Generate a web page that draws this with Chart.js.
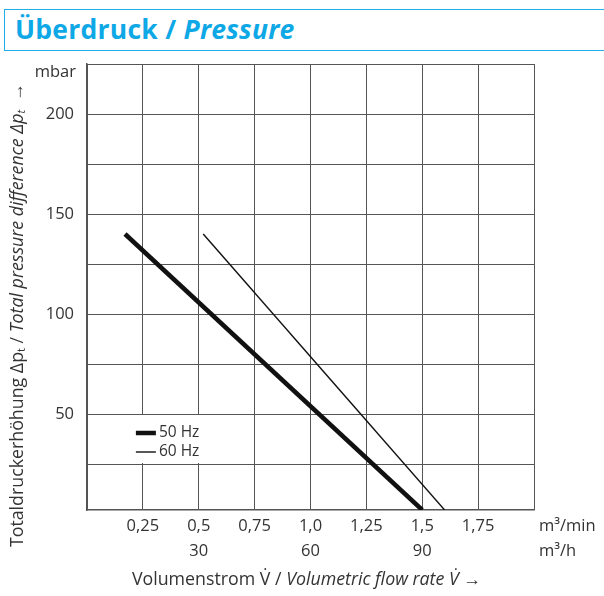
<!DOCTYPE html>
<html>
<head>
<meta charset="utf-8">
<script src="https://cdn.jsdelivr.net/npm/chart.js@4"></script>
<style>
  html, body { margin: 0; padding: 0; background: #fff; }
  body { width: 604px; height: 596px; position: relative; overflow: hidden; font-family: "Open Sans", sans-serif; }
  .header {
    position: absolute; left: 4px; top: 9px; width: 610px; height: 40px;
    border: 1.5px solid #22aee6; box-sizing: content-box;
  }
  .header span {
    position: absolute; left: 10px; top: 1px;
    font: bold 26.5px "Open Sans", sans-serif; color: #0fa8e6; letter-spacing: 0.25px;
  }
  .header i { font-style: italic; }
  #wrap { position: absolute; left: 0; top: 0; width: 604px; height: 596px; }
</style>
</head>
<body>
<div class="header"><span>Überdruck / <i>Pressure</i></span></div>
<div id="wrap"><canvas id="chart"></canvas></div>
<script>
// Kennlinien
const flow50 = [0.17, 1.5];
const pressure50 = [140, 2];
const flow60 = [0.52, 1.6];
const pressure60 = [140, 2];

// Achsen
const xTicks = [0, 0.25, 0.5, 0.75, 1.0, 1.25, 1.5, 1.75, 2.0];
const xLabelsMin = ['', '0,25', '0,5', '0,75', '1,0', '1,25', '1,5', '1,75', ''];
const xLabelsHour = ['', '', '30', '', '60', '', '90', '', ''];
const yTicks = [25, 50, 75, 100, 125, 150, 175, 200, 225];
const yLabels = ['', '50', '', '100', '', '150', '', '200', ''];

const textColor = '#333';
const gridColor = '#555';
const fontFamily = '"Open Sans", sans-serif';
const tickSize = 16.5;
const titleSize = 17.8;

const toPoints = (xs, ys) => xs.map((x, i) => ({ x: x, y: ys[i] }));

// Legende mit weissem Hintergrund im Diagramm
const legendBox = {
    id: 'legendBox',
    afterDatasetsDraw(chart) {
        const { ctx, scales: { x, y } } = chart;
        const left = x.getPixelForValue(0.25);
        const top = y.getPixelForValue(50) + 1;
        const bottom = y.getPixelForValue(25) - 1;
        ctx.save();
        ctx.fillStyle = '#fff';
        ctx.fillRect(left - 10, top, 71, bottom - top);
        ctx.font = '15.5px ' + fontFamily;
        ctx.textBaseline = 'middle';
        chart.data.datasets.forEach((ds, i) => {
            const yy = top + 18 + i * 19;
            ctx.strokeStyle = ds.borderColor;
            ctx.lineWidth = ds.borderWidth;
            ctx.beginPath();
            ctx.moveTo(left - 7, yy);
            ctx.lineTo(left + 13, yy);
            ctx.stroke();
            ctx.fillStyle = textColor;
            ctx.fillText(ds.label, left + 16, yy);
        });
        ctx.restore();
    }
};

// Achsentitel, Einheiten
const axisText = {
    id: 'axisText',
    afterDraw(chart) {
        const { ctx, chartArea: a } = chart;
        ctx.save();
        ctx.fillStyle = textColor;
        ctx.textBaseline = 'middle';
        ctx.font = tickSize + 'px ' + fontFamily;

        // Einheiten
        ctx.textAlign = 'right';
        ctx.fillText('mbar', 76, 72);
        ctx.textAlign = 'left';
        ctx.fillText('m³/min', 539, 526);
        ctx.fillText('m³/h', 539, 551);

        // x-Titel
        const xParts = [
            { t: 'Volumenstrom V\u0307 / ', it: false },
            { t: 'Volumetric flow rate V\u0307 ', it: true },
            { t: '\u2192', it: false }
        ];
        drawParts(ctx, xParts, (a.left + a.right) / 2 - 4, 580);

        // y-Titel (gedreht)
        const yParts = [
            { t: 'Totaldruckerhöhung \u0394p', it: false },
            { t: 't', it: false, sub: true },
            { t: ' / ', it: false },
            { t: 'Total pressure difference \u0394p', it: true },
            { t: 't', it: true, sub: true },
            { t: '  \u2192', it: false }
        ];
        ctx.translate(18, 315);
        ctx.rotate(-Math.PI / 2);
        drawParts(ctx, yParts, 0, 0);
        ctx.restore();
    }
};

function drawParts(ctx, parts, cx, cy) {
    const fontFor = p => (p.it ? 'italic ' : '') + (p.sub ? '11px ' : titleSize + 'px ') + fontFamily;
    let total = 0;
    parts.forEach(p => { ctx.font = fontFor(p); total += ctx.measureText(p.t).width; });
    let xx = cx - total / 2;
    ctx.textAlign = 'left';
    parts.forEach(p => {
        ctx.font = fontFor(p);
        ctx.fillText(p.t, xx, cy + (p.sub ? 4 : 0));
        xx += ctx.measureText(p.t).width;
    });
}

new Chart(document.getElementById('chart'), {
    type: 'line',
    data: {
        datasets: [
            {
                label: '50 Hz',
                data: toPoints(flow50, pressure50),
                borderColor: '#111',
                borderWidth: 4.5,
                pointRadius: 0
            },
            {
                label: '60 Hz',
                data: toPoints(flow60, pressure60),
                borderColor: '#111',
                borderWidth: 1.4,
                pointRadius: 0
            }
        ]
    },
    options: {
        responsive: true,
        maintainAspectRatio: false,
        animation: false,
        layout: { padding: { left: 0, top: 64, right: 70, bottom: 0 } },
        plugins: {
            legend: { display: false },
            tooltip: { enabled: false }
        },
        scales: {
            x: {
                type: 'linear',
                min: 0,
                max: 2.0,
                afterBuildTicks: s => { s.ticks = xTicks.map(v => ({ value: v })); },
                afterFit: s => { s.height = 86; },
                grid: { color: gridColor, lineWidth: 1, drawTicks: false },
                border: { color: gridColor, width: 1.5 },
                ticks: {
                    color: textColor,
                    padding: 4,
                    maxRotation: 0,
                    autoSkip: false,
                    font: { family: fontFamily, size: tickSize, lineHeight: 25 / tickSize },
                    callback: (v, i) => [xLabelsMin[i], xLabelsHour[i]]
                }
            },
            y: {
                min: 2,
                max: 225,
                afterBuildTicks: s => { s.ticks = yTicks.map(v => ({ value: v })); },
                afterFit: s => { s.width = 87; },
                grid: { color: gridColor, lineWidth: 1, drawTicks: false },
                border: { color: gridColor, width: 1.5 },
                ticks: {
                    color: textColor,
                    padding: 13,
                    autoSkip: false,
                    font: { family: fontFamily, size: tickSize },
                    callback: (v, i) => yLabels[i]
                }
            }
        }
    },
    plugins: [legendBox, axisText]
});
</script>
</body>
</html>
